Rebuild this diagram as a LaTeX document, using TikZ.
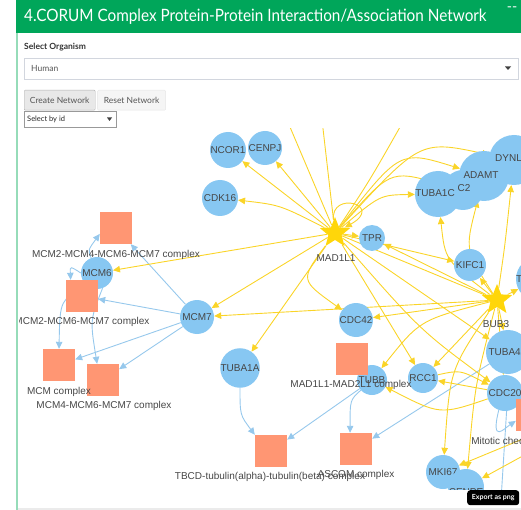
\documentclass[tikz,border=0pt]{standalone}
\usepackage{fontspec}
\setmainfont{Liberation Sans}
\newfontfamily\uifont{Lato}
\usepackage{xcolor}
\usetikzlibrary{positioning,arrows.meta,shapes.geometric,backgrounds}

\definecolor{hdrgreen}{RGB}{0,166,90}
\definecolor{sidegreen}{RGB}{150,220,185}
\definecolor{protblue}{RGB}{135,199,242}
\definecolor{cplxsalmon}{RGB}{255,150,115}
\definecolor{staryel}{RGB}{255,214,10}
\definecolor{linkyel}{RGB}{250,212,40}
\definecolor{linkblue}{RGB}{150,200,236}
\definecolor{lbltext}{RGB}{70,70,70}
\definecolor{uigray}{RGB}{85,85,85}
\definecolor{uiborder}{RGB}{210,214,222}

\begin{document}
\begin{tikzpicture}[x=1pt, y=-1pt,
  font=\fontsize{10}{12}\selectfont,
  prot/.style={circle, fill=protblue, inner sep=0pt, text=lbltext},
  cplx/.style={rectangle, fill=cplxsalmon, minimum size=32pt, inner sep=0pt},
  hub/.style={star, star points=5, star point ratio=2.3, fill=staryel, minimum size=32pt, inner sep=0pt},
  lbl/.style={text=lbltext, inner sep=1pt},
  yarr/.style={-{Triangle[length=7pt,width=6.5pt]}, linkyel, line width=0.9pt},
  barr/.style={-{Triangle[length=7pt,width=6.5pt]}, linkblue, line width=0.9pt},
  uitext/.style={font=\uifont\fontsize{8.5}{10}\selectfont, text=uigray, inner sep=0pt},
  btn/.style={draw, rounded corners=1pt, minimum height=20pt, inner sep=0pt, font=\uifont\fontsize{8.5}{10}\selectfont, text=uigray}]

\useasboundingbox (0,0) rectangle (521,510);

% Box header and frame
\fill[hdrgreen] (16,0) rectangle (521,33);
\node[anchor=west, text=white, font=\uifont\fontsize{17}{20}\selectfont, inner sep=0pt] (title) at (24,17) {\scalebox{0.9}[1]{4.CORUM Complex Protein-Protein Interaction/Association Network}};
\node[text=white, font=\uifont\fontsize{14}{16}\selectfont, inner sep=0pt] (collapse) at (512,9) {--};
\draw[sidegreen, line width=1.5pt] (17,33) -- (17,510);

% Controls
\node[uitext, anchor=west, text=black!80, font=\uifont\bfseries\fontsize{8.5}{10}\selectfont] (orglbl) at (24,47) {Select Organism};
\draw[uiborder] (24,58) rectangle (518,79);
\node[uitext, anchor=west] (organism) at (31,68.5) {Human};
\fill[black!75] (505,66.5) -- (511,66.5) -- (508,70) -- cycle;
\node[btn, fill=black!9, draw=black!30, minimum width=71pt, anchor=north west] (create) at (24,90) {Create Network};
\node[btn, fill=black!4, draw=black!10, minimum width=68pt, right=2pt of create] (reset) {Reset Network};
\draw[black!40] (24,111) rectangle (116,127);
\node[uitext, anchor=west, text=black!85, font=\uifont\fontsize{7.5}{9}\selectfont] (selid) at (27,119) {Select by id};
\fill[black!75] (107,117.5) -- (112,117.5) -- (109.5,121) -- cycle;

% Network canvas: nodes
\begin{scope}
\clip (19,129) rectangle (521,489);
% proteins
\node[prot, minimum size=36pt] (ncor) at (228,150) {NCOR1};
\node[prot, minimum size=34pt] (cenpj) at (265,148) {CENPJ};
\node[prot, minimum size=36pt] (cdk) at (220,198) {CDK16};
\node[prot, minimum size=32pt] (mcmsix) at (97,273) {MCM6};
\node[prot, minimum size=34pt] (mcmsev) at (197,317) {MCM7};
\node[prot, minimum size=38pt] (tubaoa) at (240,368) {TUBA1A};
\node[prot, minimum size=26pt] (tpr) at (372,238) {TPR};
\node[prot, minimum size=34pt] (cdcft) at (356,320) {CDC42};
\node[prot, minimum size=40pt] (ctwo) at (463,190) {};
\node[prot, minimum size=50pt] (adamt) at (484,176) {};
\node[prot, minimum size=50pt] (dynll) at (514,160) {};
\node[prot, minimum size=46pt] (tubaoc) at (438,194) {};
\node[lbl] (ctwotext) at (464,188) {C2};
\node[lbl] (adamttext) at (481,175) {ADAMT};
\node[lbl, anchor=west] (dynlltext) at (494,158) {DYNLL1};
\node[lbl] (tubaoctext) at (435,193) {TUBA1C};
\node[prot, minimum size=32pt] (kifc) at (470,265) {KIFC1};
\node[prot, minimum size=44pt] (rightt) at (538,279) {};
\node[lbl, anchor=west] (righttext) at (515,279) {T};
\node[prot, minimum size=44pt] (tubafa) at (508,352) {TUBA4A};
\node[prot, minimum size=30pt] (rcc) at (423,378) {RCC1};
\node[prot, minimum size=30pt] (tubb) at (372,380) {};
\node[prot, minimum size=36pt] (cdctw) at (505,393) {CDC20};
\node[prot, minimum size=34pt] (mkisix) at (443,472) {MKI67};
\node[prot, minimum size=36pt] (cenpe) at (466,487) {};
\node[lbl] (cenpetext) at (466,492) {CENPE};
% hubs
\node[hub] (mad) at (335,233) {};
\node[hub] (bub) at (497,300) {};
% complexes
\node[cplx] (cxa) at (116,228) {};
\node[cplx] (cxb) at (82,296) {};
\node[cplx] (cxc) at (59,365) {};
\node[cplx] (cxd) at (103,380) {};
\node[cplx] (cxe) at (352,359) {};
\node[cplx] (cxf) at (271,451) {};
\node[cplx] (cxg) at (356,449) {};
\node[cplx] (cxh) at (532,415) {};
% labels on top
\node[lbl] (madlbl) at (336,258) {MAD1L1};
\node[lbl] (bublbl) at (496,324) {BUB3};
\node[lbl] (tubbtext) at (372,380) {TUBB};
\node[lbl] (cxalbl) at (116,255) {MCM2-MCM4-MCM6-MCM7 complex};
\node[lbl] (cxblbl) at (82,322) {MCM2-MCM6-MCM7 complex};
\node[lbl] (cxclbl) at (59,392) {MCM complex};
\node[lbl] (cxdlbl) at (104,406) {MCM4-MCM6-MCM7 complex};
\node[lbl] (cxelbl) at (351,385) {MAD1L1-MAD2L1 complex};
\node[lbl] (cxflbl) at (270,477) {TBCD-tubulin(alpha)-tubulin(beta) complex};
\node[lbl] (cxglbl) at (356,475) {ASCOM complex};
\node[lbl] (cxhlbl) at (531,442) {Mitotic checkpoint complex};
\coordinate (madup) at (287,120);
\coordinate (madupb) at (322,120);
\coordinate (madupc) at (404,120);
\coordinate (edgeone) at (530,436);
\coordinate (edgetwo) at (530,452);
\coordinate (cdcdown) at (501,500);
\end{scope}

% Network canvas: links
\begin{scope}[on background layer]
\clip (19,129) rectangle (521,489);
% protein -> complex
\draw[barr] (mcmsix) .. controls (88,250) .. (cxa.200);
\draw[barr] (mcmsix.west) .. controls (70,266) .. (cxb.125);
\draw[barr] (mcmsix.230) .. controls (60,300) .. (cxc.north);
\draw[barr] (mcmsix.290) .. controls (90,320) .. (cxd.110);
\draw[barr] (mcmsev) -- (cxa);
\draw[barr] (mcmsev) -- (cxb);
\draw[barr] (mcmsev) -- (cxc);
\draw[barr] (mcmsev) -- (cxd);
\draw[barr] (tubaoa) .. controls (240,415) .. (cxf.135);
\draw[barr] (tubb) -- (cxf);
\draw[barr] (tubb) .. controls (350,400) .. (cxg.110);
\draw[barr] (tubafa) -- (cxg);
\draw[barr] (cdctw.250) .. controls (490,445) and (505,428) .. (cxh.200);
\draw[linkblue, line width=0.9pt] (cdctw.275) -- (cdcdown);
% MAD1L1 links
\draw[yarr] (mad) -- (ncor);
\draw[yarr] (mad) -- (cenpj);
\draw[yarr] (mad) .. controls (280,205) .. (cdk);
\draw[yarr] (mad) -- (mcmsix);
\draw[yarr] (mad) -- (mcmsev);
\draw[yarr] (mad) -- (tubaoa);
\draw[yarr] (mad) -- (tpr);
\draw[yarr] (mad) .. controls (300,280) .. (cdcft);
\draw[yarr] (mad) .. controls (380,195) .. (tubaoc);
\draw[yarr] (mad) .. controls (390,170) .. (ctwo);
\draw[yarr] (mad) .. controls (400,150) .. (adamt);
\draw[yarr] (mad) .. controls (420,140) .. (dynll);
\draw[yarr] (mad) -- (kifc);
\draw[yarr] (mad) .. controls (330,190) and (385,205) .. (mad);
\draw[linkyel, line width=0.9pt] (mad) -- (madup);
\draw[linkyel, line width=0.9pt] (mad) -- (madupb);
\draw[linkyel, line width=0.9pt] (mad) .. controls (370,180) .. (madupc);
\draw[linkyel, line width=0.9pt] (mad) -- (bub);
\draw[yarr] (mad) -- (tubafa);
\draw[yarr] (mad) .. controls (420,330) .. (cdctw);
\draw[yarr] (mad) -- (rcc);
% BUB3 links
\draw[yarr] (bub) -- (tpr);
\draw[yarr] (bub) -- (kifc);
\draw[yarr] (bub) .. controls (445,260) .. (tubaoc);
\draw[yarr] (bub) .. controls (465,250) .. (adamt);
\draw[yarr] (bub) .. controls (505,245) .. (dynll);
\draw[yarr] (bub) -- (cdcft);
\draw[yarr] (bub) -- (mcmsev);
\draw[yarr] (bub) .. controls (420,320) .. (tubb);
\draw[yarr] (bub) -- (rcc);
\draw[yarr] (bub) .. controls (450,370) .. (mkisix);
\draw[yarr] (bub) .. controls (475,385) .. (cenpe);
\draw[yarr] (bub) -- (tubafa);
\draw[yarr] (bub) -- (cdctw);
\draw[yarr] (bub) -- (rightt);
% other links
\draw[yarr] (cdctw) .. controls (440,415) .. (tubb);
\draw[yarr] (cdctw) -- (rcc);
\draw[yarr] (rcc) .. controls (460,370) .. (cdctw);
\draw[yarr] (edgeone) -- (mkisix);
\draw[yarr] (edgetwo) -- (cenpe);
\end{scope}

% Export button
\node[fill=black, rounded corners=3pt, text=white, font=\uifont\bfseries\fontsize{7}{8}\selectfont, minimum width=52pt, minimum height=15pt, inner sep=0pt, anchor=north west] (export) at (467,490) {Export as png};
\draw[black!8, line width=2pt] (18,509) -- (521,509);
\end{tikzpicture}
\end{document}
